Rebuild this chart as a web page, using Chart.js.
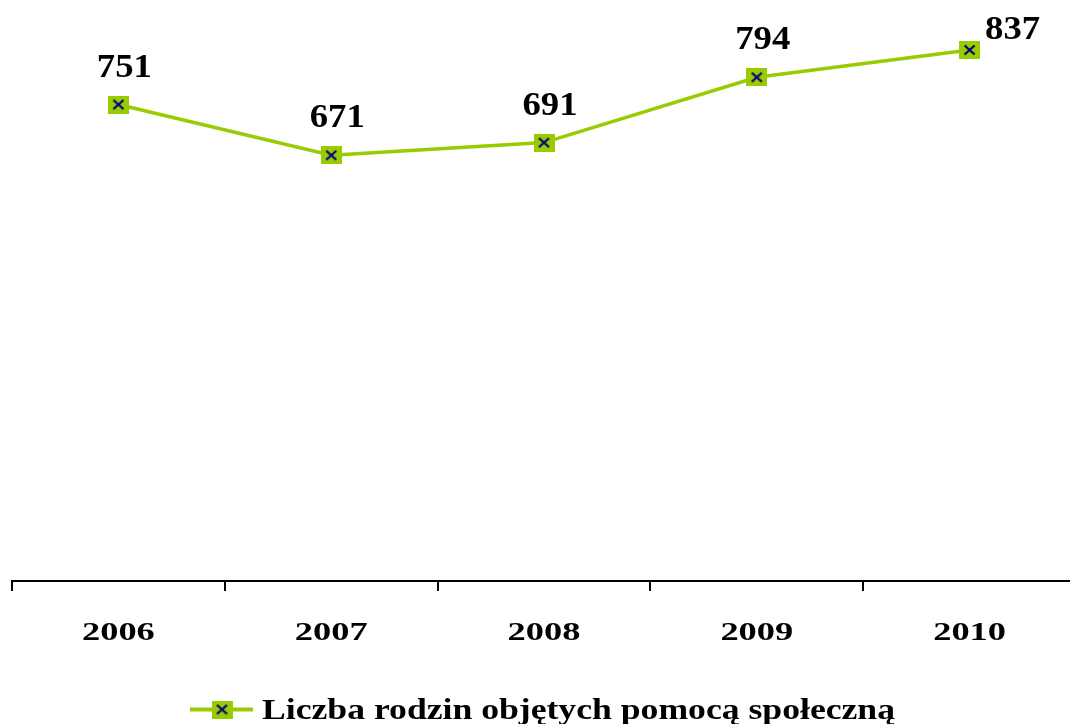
<!DOCTYPE html>
<html>
<head>
<meta charset="utf-8">
<script src="https://cdn.jsdelivr.net/npm/chart.js@4.4.1/dist/chart.umd.min.js"></script>
<style>
  html, body { margin: 0; padding: 0; background: #fff; overflow: hidden; }
  #chart { position: absolute; left: 0; top: 0; }
</style>
</head>
<body>
<canvas id="chart" width="1077" height="724"></canvas>
<script>
// data
const years = ['2006', '2007', '2008', '2009', '2010'];
const families = [751, 671, 691, 794, 837];
const seriesLabel = 'Liczba rodzin objętych pomocą społeczną';
const yMin = 0;
const yMax = 900;

const GREEN = '#99cc00';
const NAVY = '#000080';
const SERIF = '"Liberation Serif", "Times New Roman", serif';

// green square with a navy cross, used as point style
function makeMarker() {
  const c = document.createElement('canvas');
  c.width = 21;
  c.height = 18;
  const x = c.getContext('2d');
  x.fillStyle = GREEN;
  x.fillRect(0, 0, 21, 18);
  x.strokeStyle = NAVY;
  x.lineWidth = 2.2;
  x.beginPath();
  x.moveTo(5.5, 4.5); x.lineTo(15.5, 13.5);
  x.moveTo(15.5, 4.5); x.lineTo(5.5, 13.5);
  x.stroke();
  return c;
}
const marker = makeMarker();

function wideText(ctx, text, x, y, sx) {
  ctx.save();
  ctx.translate(x, y);
  ctx.scale(sx, 1);
  ctx.fillText(text, 0, 0);
  ctx.restore();
}

// value labels, x tick labels and the legend (Excel-like stretched serif)
const extrasPlugin = {
  id: 'extras',
  afterDraw(chart) {
    const ctx = chart.ctx;
    const area = chart.chartArea;
    const meta = chart.getDatasetMeta(0);
    ctx.save();
    ctx.fillStyle = '#000';
    ctx.textBaseline = 'alphabetic';

    // value labels above points
    ctx.font = `bold 34px ${SERIF}`;
    ctx.textAlign = 'center';
    meta.data.forEach((pt, i) => {
      const txt = String(families[i]);
      if (pt.y - 52 < area.top) {
        wideText(ctx, txt, pt.x + 43, pt.y - 11, 1.08);
      } else {
        wideText(ctx, txt, pt.x + 6, pt.y - 28, 1.08);
      }
    });

    // category labels
    const xs = chart.scales.x;
    ctx.font = `bold 26px ${SERIF}`;
    years.forEach((y, i) => {
      wideText(ctx, y, xs.getPixelForTick(i), area.bottom + 58.5, 1.4);
    });

    // legend
    const ly = 709.5;
    ctx.strokeStyle = GREEN;
    ctx.lineWidth = 4;
    ctx.beginPath();
    ctx.moveTo(190, ly);
    ctx.lineTo(253, ly);
    ctx.stroke();
    ctx.drawImage(marker, 222 - marker.width / 2, ly - marker.height / 2);
    ctx.font = `bold 30px ${SERIF}`;
    ctx.textAlign = 'left';
    const w = ctx.measureText(seriesLabel).width;
    wideText(ctx, seriesLabel, 262, 719, 633 / w);
    ctx.restore();
  },
};

new Chart(document.getElementById('chart'), {
  type: 'line',
  data: {
    labels: years,
    datasets: [
      {
        label: seriesLabel,
        data: families,
        borderColor: GREEN,
        borderWidth: 3.5,
        tension: 0,
        pointStyle: marker,
        pointRadius: 10,
        pointHoverRadius: 10,
        clip: false,
      },
    ],
  },
  options: {
    responsive: false,
    maintainAspectRatio: false,
    devicePixelRatio: 1,
    animation: false,
    layout: {
      autoPadding: false,
      padding: { left: 12, right: 1, top: 10, bottom: 133 },
    },
    plugins: {
      legend: { display: false },
      tooltip: { enabled: false },
    },
    scales: {
      y: {
        display: false,
        min: yMin,
        max: yMax,
      },
      x: {
        offset: true,
        border: { color: '#000', width: 2 },
        grid: {
          offset: true,
          drawOnChartArea: false,
          drawTicks: true,
          tickLength: 10,
          color: '#000',
          lineWidth: 2,
        },
        ticks: { display: false },
      },
    },
  },
  plugins: [extrasPlugin],
});
</script>
</body>
</html>
